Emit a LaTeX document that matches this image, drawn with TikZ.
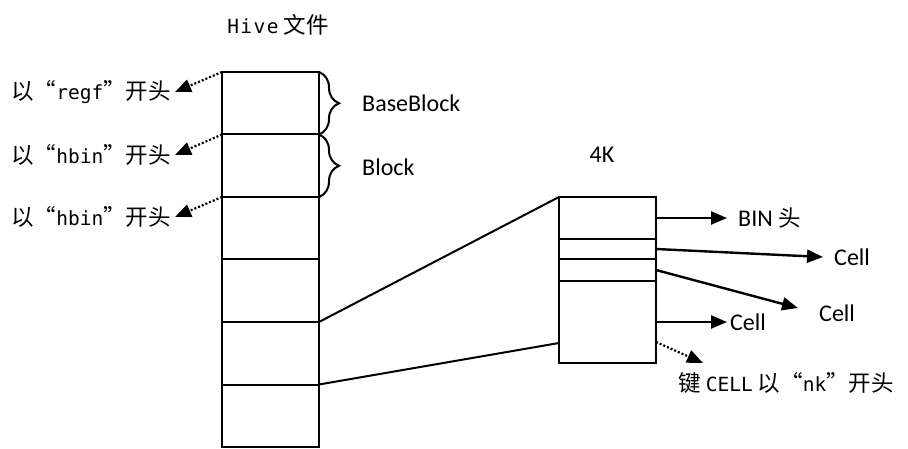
\documentclass[tikz,border=0pt]{standalone}
\usepackage{fontspec}
\usetikzlibrary{arrows.meta,positioning,decorations.pathreplacing}
\newfontfamily\cjk{Noto Sans CJK SC}
\newfontfamily\monofnt{DejaVu Sans Mono}
\newfontfamily\lblfont{Carlito}
\newcommand\lat[1]{{\monofnt\fontsize{19.5}{24}\selectfont #1}}
\tikzset{
  hivecell/.style={draw,line width=2pt,minimum width=97pt,minimum height=62.5pt,inner sep=0pt,outer sep=0pt},
  bincell/.style={draw,line width=2pt,minimum width=97pt,inner sep=0pt,outer sep=0pt},
  link/.style={line width=2pt},
  ptr/.style={line width=2.4pt,-{Triangle[length=16pt,width=13pt]}},
  hint/.style={line width=2.2pt,dash pattern=on 2pt off 2pt,-{Triangle[length=16pt,width=13pt]}},
  cnlbl/.style={font=\cjk\fontsize{22.5}{27}\selectfont,inner sep=0pt},
  enlbl/.style={font=\lblfont\fontsize{24}{28}\selectfont,inner sep=0pt},
}
\begin{document}
\begin{tikzpicture}[x=1pt,y=-1pt,>=Stealth]
\useasboundingbox (0,0) rectangle (908,449);
% ---------- left: hive file ----------
\node[cnlbl] (title) at (278,25) {\lat{H\kern1.5pt i\kern1.5pt v\kern1.5pt e}\ 文件};
\foreach \i in {1,...,6}
  \node[hivecell] (h\i) at (270.5,{72+62.5*(\i-0.5)}) {};
% braces
\draw[link,decorate,decoration={brace,amplitude=20pt}] (h1.north east) -- (h1.south east);
\draw[link,decorate,decoration={brace,amplitude=20pt}] (h2.north east) -- (h2.south east);
\node[enlbl,anchor=west] (baseblk) at (362,103) {BaseBlock};
\node[enlbl,anchor=west] (blk) at (362,167) {Block};
% signatures
\coordinate (tregf) at (175,92);
\coordinate (thbin1) at (175,155);
\coordinate (thbin2) at (175,217);
\draw[hint] (h1.north west) -- (tregf);
\draw[hint] (h2.north west) -- (thbin1);
\draw[hint] (h3.north west) -- (thbin2);
\node[cnlbl,left=4pt of tregf] (regf) {以“\lat{regf}”开头};
\node[cnlbl,left=4pt of thbin1] (hbin1) {以“\lat{hbin}”开头};
\node[cnlbl,left=4pt of thbin2] (hbin2) {以“\lat{hbin}”开头};
% ---------- right: 4K bin ----------
\node[enlbl] (fourk) at (602,155) {4K};
\node[bincell,minimum height=42pt] (k1) at (607.5,218) {};
\node[bincell,minimum height=20pt,below=0pt of k1] (k2) {};
\node[bincell,minimum height=22pt,below=0pt of k2] (k3) {};
\node[bincell,minimum height=82pt,below=0pt of k3] (k4) {};
\coordinate (k4in) at ([yshift=20pt]k4.south west);
\coordinate (k4out) at ([yshift=21pt]k4.south east);
\draw[link] (h4.south east) -- (k1.north west);
\draw[link] (h5.south east) -- (k4in);
% pointers
\coordinate (tbin) at (727,218);
\coordinate (tcell1) at (823,257);
\coordinate (tcell2) at (798,308);
\coordinate (tcell3) at (727,322);
\coordinate (tnk) at (703,363);
\draw[ptr] (k1.east) -- (tbin);
\draw[ptr] (k2.east) -- (tcell1);
\draw[ptr] (k3.east) -- (tcell2);
\draw[ptr] (k4.east) -- (tcell3);
\draw[hint] (k4out) -- (tnk);
\node[enlbl,right=11pt of tbin] (bin) {BIN {\cjk\fontsize{22.5}{27}\selectfont 头}};
\node[enlbl,right=11pt of tcell1] (cell1) {Cell};
\node[enlbl,anchor=west] (cell2) at (819,313) {Cell};
\node[enlbl,right=3pt of tcell3] (cell3) {Cell};
\node[cnlbl] (nk) at (786,383) {键 \lat{CELL} 以“\lat{nk}”开头};
\end{tikzpicture}
\end{document}
